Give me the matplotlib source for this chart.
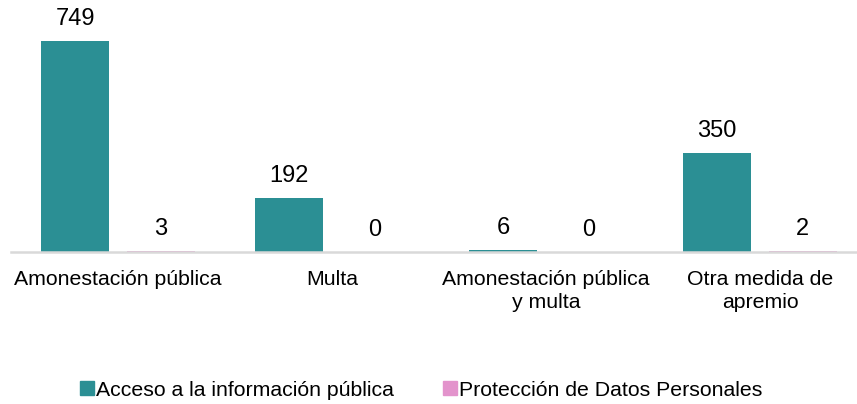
import numpy as np
import matplotlib
matplotlib.use("Agg")
import matplotlib.pyplot as plt
from matplotlib.patches import Patch

plt.rcParams['font.family'] = ['Liberation Sans', 'DejaVu Sans']

categories = ["Amonestación pública", "Multa", "Amonestación pública\ny multa",
              "Otra medida de\napremio"]
acceso = [749, 192, 6, 350]
proteccion = [3, 0, 0, 2]
series_names = ["Acceso a la información pública", "Protección de Datos Personales"]

teal = "#2b8f94"
pink = "#e393cc"

W, H = 857, 404
fig = plt.figure(figsize=(W / 100, H / 100), dpi=100)
# axes in pixel coordinates: x from 11 to 867, baseline at y=252
ax = fig.add_axes([11 / W, (H - 252) / H, 856 / W, 252 / H])

x = np.arange(len(categories))
bw = 0.32
off = 0.2
b1 = ax.bar(x - off, acceso, bw, color=teal)
b2 = ax.bar(x + off, proteccion, bw, color=pink)

for bars, vals in [(b1, acceso), (b2, proteccion)]:
    for rect, v in zip(bars, vals):
        ax.annotate(str(v), (rect.get_x() + rect.get_width() / 2, v),
                    xytext=(0, 8), textcoords="offset points",
                    ha="center", va="bottom", fontsize=17, color="#000000")

ax.set_xlim(-0.5, len(categories) - 0.5)
ax.set_ylim(0, 894)
ax.set_yticks([])
ax.set_xticks(x)
ax.set_xticklabels(categories, fontsize=15.3, color="#000000", linespacing=1.25)
ax.tick_params(axis="x", length=0, pad=13)
for s in ["top", "right", "left"]:
    ax.spines[s].set_visible(False)
ax.spines["bottom"].set_color("#d9d9d9")
ax.spines["bottom"].set_linewidth(1.8)

handles = [Patch(color=teal), Patch(color=pink)]
fig.legend(handles, series_names, loc="center", bbox_to_anchor=(421 / W, 1 - 390 / H),
           ncol=2, frameon=False, fontsize=15.3, handlelength=0.65, handleheight=0.65,
           handletextpad=0.1, columnspacing=2.3)

fig.savefig("out.png", dpi=100)
